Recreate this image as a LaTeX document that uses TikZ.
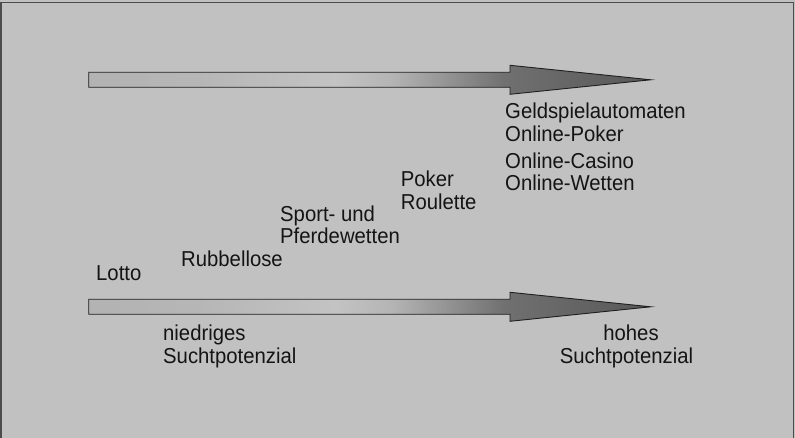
\documentclass[tikz,border=0pt]{standalone}
\usepackage{fontspec}
\setmainfont{Liberation Sans}[FakeStretch=0.94]

% grey tones
\definecolor{panel}{gray}{0.755}
\definecolor{frameline}{gray}{0.30}
\definecolor{inkcol}{gray}{0.08}
\definecolor{sA}{gray}{0.700}
\definecolor{sB}{gray}{0.715}
\definecolor{sC}{gray}{0.765}
\definecolor{sD}{gray}{0.705}
\definecolor{sE}{gray}{0.575}
\definecolor{sF}{gray}{0.440}
\definecolor{sG}{gray}{0.345}

% light-to-dark ramp along the arrows (path spans 25bp..75bp)
\pgfdeclarehorizontalshading{potenzialramp}{100bp}{%
  color(0bp)=(sA); color(25bp)=(sA); color(35bp)=(sB); color(47bp)=(sC);
  color(52bp)=(sD); color(57bp)=(sE); color(62bp)=(sF); color(75bp)=(sG);
  color(100bp)=(sG)}

\tikzset{
  label/.style={anchor=base west, inner sep=0pt, text=inkcol,
    font=\fontsize{21.6}{23.4}\selectfont},
  clabel/.style={label, anchor=base},
  pfeil/.pic={
    \draw[draw=black!88, line width=0.9pt, shading=potenzialramp, line join=miter]
      (0,-7.5) -- (421.3,-7.5) -- (421.3,-14.5) -- (562,0) -- (421.3,14.5)
      -- (421.3,7.5) -- (0,7.5) -- cycle;
  }
}

\begin{document}
\begin{tikzpicture}[x=1pt,y=-1pt]
  % panel and its frame
  \fill[panel] (0,0) rectangle (795,438);
  \useasboundingbox (0,0) rectangle (795,438);
  \draw[frameline, line width=1.6pt] (1.2,438) -- (1.2,2.4) -- (793.6,2.4) -- (793.6,438);

  % the two arrows
  \pic at (88.7,79.8) {pfeil};
  \pic at (88.7,306.8) {pfeil};

  % games, from low to high addiction potential
  \node[label] (lotto) at (96,280.7) {Lotto};
  \node[label] (rubbel) at (181,266.5) {Rubbellose};
  \node[label] (sport) at (280,221.3) {Sport- und};
  \node[label] (pferd) at (280,243.8) {Pferdewetten};
  \node[label] (poker) at (400.7,186.5) {Poker};
  \node[label] (roulette) at (400.7,209.5) {Roulette};
  \node[label] (geld) at (505,118.3) {Geldspielautomaten};
  \node[label] (opoker) at (505,141.7) {Online-Poker};
  \node[label] (ocasino) at (505,168.3) {Online-Casino};
  \node[label] (owetten) at (505,191) {Online-Wetten};

  % scale ends
  \node[label] (niedrig) at (163,340) {niedriges};
  \node[label] (suchtlo) at (163,363) {Suchtpotenzial};
  \node[clabel] (hoch) at (631,340) {hohes};
  \node[clabel] (suchthi) at (626.5,363) {Suchtpotenzial};
\end{tikzpicture}
\end{document}
